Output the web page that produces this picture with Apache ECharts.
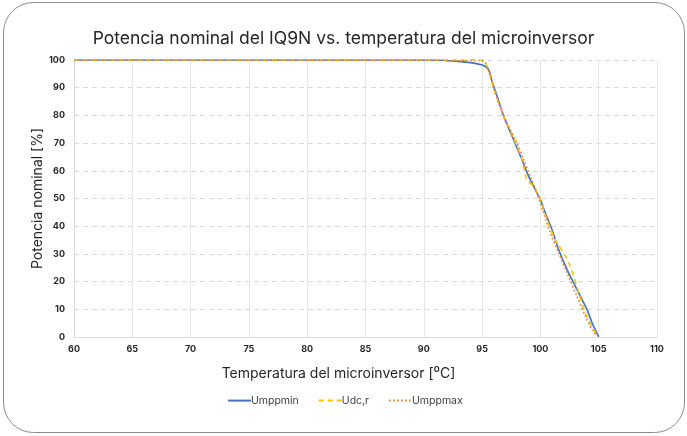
<!DOCTYPE html>
<html>
<head>
<meta charset="utf-8">
<script src="https://cdn.jsdelivr.net/npm/echarts@6/dist/echarts.min.js"></script>
<style>
  html, body { margin: 0; padding: 0; background: #fff; }
  #chart { width: 687px; height: 436px; }
</style>
</head>
<body>
<div id="chart"></div>
<script>
// Umppmin
const minTemp = [60, 90, 93, 95, 95.57, 95.86, 96.3, 96.86, 97.7, 98.43, 99, 99.57, 100, 100.43, 101, 101.57, 102.29, 103, 103.57, 104, 104.43, 105];
const minPower = [100, 100, 99.5, 98.2, 96.4, 92.2, 86.8, 79.6, 71.2, 63.9, 57.9, 53.1, 49.5, 44.7, 38.7, 31.5, 24.3, 18.3, 13.5, 9.9, 5.1, 0];
// Udc,r
const dcTemp = [60, 95, 95.3, 95.7, 96.14, 96.86, 97.7, 98.43, 98.86, 99.43, 100, 100.57, 101.29, 102, 102.57, 103.29, 103.86, 104.57, 105];
const dcPower = [100, 100, 98.8, 94, 88, 79.6, 71.8, 64, 56.7, 54.3, 49.5, 42.3, 35, 30.3, 25.5, 15.9, 8.7, 2.6, 0];
// Umppmax
const maxTemp = [60, 95, 95.57, 95.86, 96.43, 97.14, 98, 98.57, 99.14, 99.71, 100.29, 100.86, 101.57, 102.29, 103.14, 103.86, 104.43, 104.86];
const maxPower = [100, 99.8, 96.4, 91.6, 84.4, 77.2, 70, 64, 57.9, 51.9, 44.7, 37.5, 30.3, 23.1, 14.7, 7.5, 2.6, 0.5];

const pairs = (xs, ys) => xs.map((x, i) => [x, ys[i]]);

const chart = echarts.init(document.getElementById('chart'));
const font = 'Inter, "DejaVu Sans", sans-serif';

const option = {
  animation: false,
  textStyle: { fontFamily: font },
  graphic: [{
    type: 'rect',
    shape: { x: 3.5, y: 2.5, width: 681, height: 430, r: 30 },
    style: { fill: 'none', stroke: '#8c8c8c', lineWidth: 1 },
    silent: true
  }],
  title: {
    text: 'Potencia nominal del IQ9N vs. temperatura del microinversor',
    left: 'center',
    top: 25,
    textStyle: { fontSize: 17.5, fontWeight: 'normal', color: '#262626', fontFamily: font }
  },
  legend: {
    top: 390,
    left: 222,
    itemWidth: 23,
    itemGap: 19,
    itemStyle: { opacity: 0 },
    textStyle: { fontSize: 10.5, color: '#404040', fontFamily: font, padding: [0, 0, 0, -5] },
    data: ['Umppmin', 'Udc,r', 'Umppmax']
  },
  grid: { left: 74, right: 30, top: 60, bottom: 99 },
  xAxis: {
    type: 'value',
    min: 60, max: 110, interval: 5,
    name: 'Temperatura del microinversor [⁰C]',
    nameLocation: 'middle',
    nameGap: 30,
    nameTextStyle: { fontSize: 14, color: '#262626', padding: [0, 54, 0, 0] },
    axisLine: { lineStyle: { color: '#d9d9d9' } },
    axisTick: { show: false },
    axisLabel: { fontSize: 9, fontWeight: 'bold', color: '#262626', margin: 8 },
    splitLine: { show: true, lineStyle: { color: '#e6e6e6', type: 'solid' } }
  },
  yAxis: {
    type: 'value',
    min: 0, max: 100, interval: 10,
    name: 'Potencia nominal [%]',
    nameLocation: 'middle',
    nameGap: 29,
    nameMoveOverlap: false,
    nameTextStyle: { fontSize: 14, color: '#262626' },
    axisLine: { show: true, lineStyle: { color: '#d9d9d9' } },
    axisTick: { show: false },
    axisLabel: { fontSize: 9, fontWeight: 'bold', color: '#262626', margin: 9 },
    splitLine: { show: true, lineStyle: { color: '#d9d9d9', type: [5, 4] } }
  },
  series: [
    {
      name: 'Umppmin', type: 'line', data: pairs(minTemp, minPower),
      smooth: 0.3, symbol: 'none',
      lineStyle: { color: '#4472C4', width: 1.6 },
      itemStyle: { color: '#4472C4' }
    },
    {
      name: 'Udc,r', type: 'line', data: pairs(dcTemp, dcPower),
      smooth: 0.3, symbol: 'none',
      lineStyle: { color: '#FFC000', width: 1.6, type: [5, 4] },
      itemStyle: { color: '#FFC000' }
    },
    {
      name: 'Umppmax', type: 'line', data: pairs(maxTemp, maxPower),
      smooth: 0.3, symbol: 'none',
      lineStyle: { color: '#ED7D31', width: 1.6, type: [1.6, 2.4] },
      itemStyle: { color: '#ED7D31' }
    }
  ]
};

chart.setOption(option);
</script>
</body>
</html>
